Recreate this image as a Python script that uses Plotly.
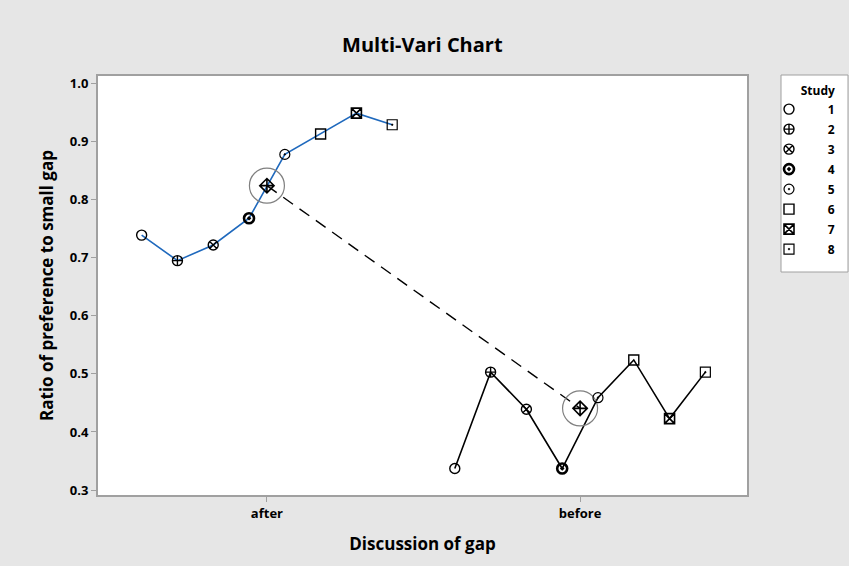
import numpy as np
import plotly.graph_objects as go

categories = ["after", "before"]
studies = ["1", "2", "3", "4", "5", "6", "7", "8"]
after_vals = [0.739, 0.695, 0.722, 0.768, 0.878, 0.913, 0.949, 0.929]
before_vals = [0.337, 0.503, 0.439, 0.337, 0.459, 0.524, 0.423, 0.503]
y_ticks = [0.3, 0.4, 0.5, 0.6, 0.7, 0.8, 0.9, 1.0]

symbols = ["circle-open", "circle-cross-open", "circle-x-open", "circle-open-dot",
           "circle-open-dot", "square-open", "square-x-open", "square-open-dot"]
sym_width = [1.4, 1.4, 1.4, 2.6, 1.2, 1.4, 1.6, 1.2]

FONT = "Open Sans"
w = 0.1143
offsets = [(k - 3.5) * w for k in range(len(studies))]
cat_pos = [1, 2]

fig = go.Figure()

# group connecting lines
fig.add_trace(go.Scatter(x=[cat_pos[0] + o for o in offsets], y=after_vals, mode="lines",
                         line=dict(color="#1f69bd", width=1.6), showlegend=False, hoverinfo="skip"))
fig.add_trace(go.Scatter(x=[cat_pos[1] + o for o in offsets], y=before_vals, mode="lines",
                         line=dict(color="black", width=1.6), showlegend=False, hoverinfo="skip"))

# means
means = [float(np.mean(after_vals)), float(np.mean(before_vals))]
fig.add_trace(go.Scatter(x=cat_pos, y=means, mode="lines",
                         line=dict(color="black", width=1.4, dash="12px,8px"),
                         showlegend=False, hoverinfo="skip"))
fig.add_trace(go.Scatter(x=cat_pos, y=means, mode="markers",
                         marker=dict(symbol="circle-open", size=35, color="#808080",
                                     line=dict(color="#808080", width=1.2)),
                         showlegend=False, hoverinfo="skip"))
fig.add_trace(go.Scatter(x=cat_pos, y=means, mode="markers",
                         marker=dict(symbol="diamond-cross-open", size=11, color="black",
                                     line=dict(color="black", width=1.6)),
                         showlegend=False))

for k, s in enumerate(studies):
    fig.add_trace(go.Scatter(
        x=[cat_pos[0] + offsets[k], cat_pos[1] + offsets[k]],
        y=[after_vals[k], before_vals[k]],
        mode="markers", name="\u00a0" * 6 + s, legendgroup=s,
        marker=dict(symbol=symbols[k], size=10, color="black",
                    line=dict(color="black", width=sym_width[k])),
    ))

# plot-area geometry in pixels for background shapes
L, R, T, B = 98, 108, 76, 78
W, H = 855, 573
pw, ph = W - L - R, H - T - B
def px_x(p):
    return (p - L) / pw
def px_y(p):
    return (H - B - p) / ph

fig.add_shape(type="rect", xref="paper", yref="paper", layer="below",
              x0=px_x(0), x1=px_x(849), y0=px_y(566), y1=px_y(0),
              fillcolor="#e6e6e6", line=dict(width=0))
fig.add_shape(type="rect", xref="paper", yref="paper", layer="below",
              x0=0, x1=1, y0=0, y1=1, fillcolor="white", line=dict(width=0))
# legend frame
fig.add_shape(type="rect", xref="paper", yref="paper", layer="below",
              x0=px_x(781), x1=px_x(848), y0=px_y(272), y1=px_y(75),
              fillcolor="white", line=dict(color="#a0a0a0", width=1))

fig.update_layout(
    width=W, height=H,
    margin=dict(l=L, r=R, t=T, b=B),
    paper_bgcolor="white", plot_bgcolor="white",
    font=dict(family=FONT, color="black"),
    title=dict(text="Multi-Vari Chart", x=0.494, xanchor="center", y=1 - 45 / H, yanchor="middle",
               font=dict(family=FONT, size=20, weight="bold", color="black")),
    showlegend=True,
    legend=dict(x=px_x(769), xanchor="left", y=px_y(79), yanchor="top",
                bgcolor="rgba(0,0,0,0)", borderwidth=0,
                font=dict(family=FONT, size=12, weight="bold"),
                title=dict(text="Study\u00a0", side="top right",
                           font=dict(family=FONT, size=12, weight="bold")),
                tracegroupgap=1, itemwidth=30),
    xaxis=dict(range=[0.4606, 2.533], tickvals=cat_pos, ticktext=categories,
               showgrid=False, zeroline=False, showline=True, mirror=True,
               linecolor="#a0a0a0", linewidth=2, ticks="outside", ticklen=5, tickcolor="#a0a0a0",
               tickfont=dict(family=FONT, size=13, weight="bold"),
               title=dict(text="Discussion of gap", standoff=18,
                          font=dict(family=FONT, size=17, weight="bold"))),
    yaxis=dict(range=[0.2914, 1.013], tickvals=y_ticks, ticktext=[f"{v:.1f}" for v in y_ticks],
               showgrid=False, zeroline=False, showline=True, mirror=True,
               linecolor="#a0a0a0", linewidth=2, ticks="outside", ticklen=5, tickcolor="#a0a0a0",
               tickfont=dict(family=FONT, size=13, weight="bold"),
               title=dict(text="Ratio of preference to small gap", standoff=12,
                          font=dict(family=FONT, size=17, weight="bold"))),
)

fig.write_html("out.html", config={"displayModeBar": False},
               post_script="document.body.style.margin='0';")
